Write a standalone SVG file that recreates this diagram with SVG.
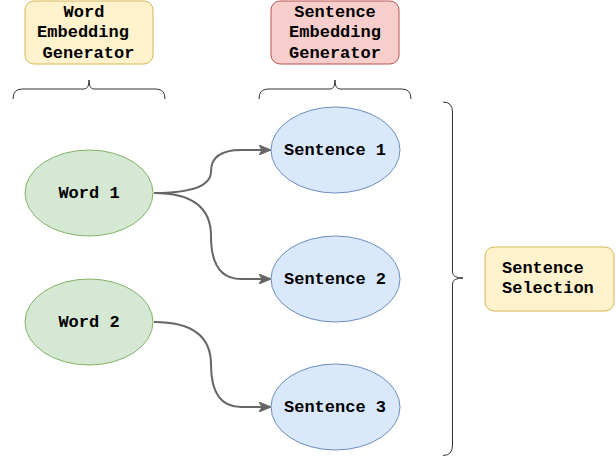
<svg xmlns="http://www.w3.org/2000/svg" width="616" height="457" viewBox="0 0 616 457">
<style>
.t{font-family:"Liberation Mono","Courier New",monospace;font-weight:bold;font-size:17px;fill:#000}
.c{text-anchor:middle}
.yel{fill:#fff2cc;stroke:#d6b656;stroke-width:1}
.red{fill:#f8cecc;stroke:#b85450;stroke-width:1}
.grn{fill:#d5e8d4;stroke:#82b366;stroke-width:1}
.blu{fill:#dae8fc;stroke:#6c8ebf;stroke-width:1}
.br{fill:none;stroke:#333;stroke-width:1}
.e{fill:none;stroke:#666;stroke-width:2;marker-end:url(#arr)}
</style>
<defs>
<marker id="arr" viewBox="0 0 12 10" refX="11" refY="5" markerWidth="12" markerHeight="10" markerUnits="userSpaceOnUse" orient="auto">
<path d="M0 0 L12 5 L0 10 L3 5 Z" fill="#666" stroke="#666" stroke-width="1"/>
</marker>
</defs>
<rect width="616" height="457" fill="#fff"/>
<g id="connectors">
<path class="e" d="M154 193 Q211 193 211 171.5 Q211 150 241 150 L270 150"/>
<path class="e" d="M154 193 Q211 193 211 236 Q211 279 241 279 L270 279"/>
<path class="e" d="M154 322 Q211 322 211 364.5 Q211 407 241 407 L270 407"/>
</g>
<g id="word-embedding-generator">
<rect class="yel" x="25" y="1" width="128" height="63" rx="9"/>
<text class="t c" x="84" y="16.5">Word</text>
<text class="t c" x="83" y="37">Embedding</text>
<text class="t c" x="88.5" y="57.5">Generator</text>
</g>
<g id="sentence-embedding-generator">
<rect class="red" x="271" y="1" width="128" height="63" rx="9"/>
<text class="t c" x="335" y="16.5">Sentence</text>
<text class="t c" x="335" y="37">Embedding</text>
<text class="t c" x="335" y="57.5">Generator</text>
</g>
<g id="brace-word">
<path class="br" d="M13 99 Q13 89 22 89 L84 89 Q89 89 89 80 Q89 89 94 89 L156 89 Q165 89 165 99"/>
</g>
<g id="brace-sentence">
<path class="br" d="M259 99 Q259 89 268 89 L330 89 Q335 89 335 80 Q335 89 340 89 L402 89 Q411 89 411 99"/>
</g>
<g id="brace-selection">
<path class="br" d="M443 102 Q452.5 102 452.5 112 L452.5 272 Q452.5 278 463 278 Q452.5 278 452.5 284 L452.5 445 Q452.5 455.5 443 455.5"/>
</g>
<g id="word1">
<ellipse class="grn" cx="89" cy="193" rx="64" ry="43"/>
<text class="t c" x="89" y="197.5">Word 1</text>
</g>
<g id="word2">
<ellipse class="grn" cx="89" cy="322" rx="64" ry="43"/>
<text class="t c" x="89" y="326.5">Word 2</text>
</g>
<g id="sentence1">
<ellipse class="blu" cx="335.5" cy="150" rx="64.5" ry="43"/>
<text class="t c" x="335" y="154.5">Sentence 1</text>
</g>
<g id="sentence2">
<ellipse class="blu" cx="335.5" cy="279" rx="64.5" ry="43"/>
<text class="t c" x="335" y="283.5">Sentence 2</text>
</g>
<g id="sentence3">
<ellipse class="blu" cx="335.5" cy="407" rx="64.5" ry="43"/>
<text class="t c" x="335" y="411.5">Sentence 3</text>
</g>
<g id="sentence-selection">
<rect class="yel" x="485" y="247" width="129" height="64" rx="9"/>
<text class="t" x="502" y="273">Sentence</text>
<text class="t" x="502" y="293">Selection</text>
</g>
</svg>
